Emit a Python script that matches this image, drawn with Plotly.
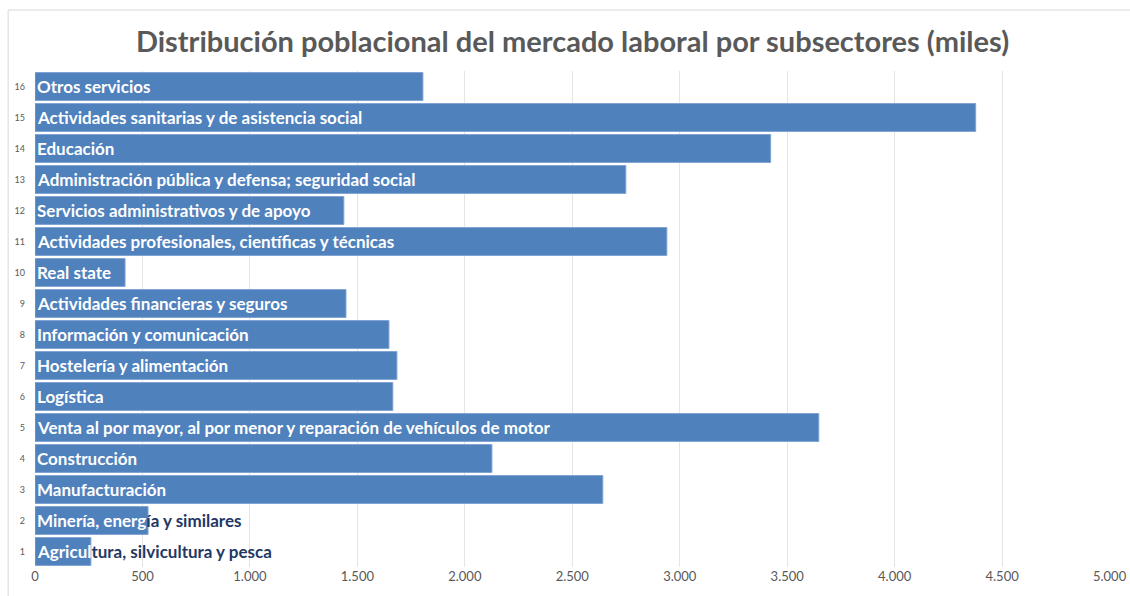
import plotly.graph_objects as go

positions = list(range(1, 17))
subsectors = [
    "Agricultura, silvicultura y pesca",
    "Minería, energía y similares",
    "Manufacturación",
    "Construcción",
    "Venta al por mayor, al por menor y reparación de vehículos de motor",
    "Logística",
    "Hostelería y alimentación",
    "Información y comunicación",
    "Actividades financieras y seguros",
    "Real state",
    "Actividades profesionales, científicas y técnicas",
    "Servicios administrativos y de apoyo",
    "Administración pública y defensa; seguridad social",
    "Educación",
    "Actividades sanitarias y de asistencia social",
    "Otros servicios",
]
values = [260, 526, 2642, 2126, 3647, 1665, 1684, 1647, 1447, 419, 2940, 1437, 2749, 3423, 4377, 1805]
# characters of the label that fall inside a short bar (rest overflows in dark blue)
inside_chars = [7, 14, None, None, None, None, None, None, None, None, None, None, None, None, None, None]

x_ticks = [0, 500, 1000, 1500, 2000, 2500, 3000, 3500, 4000, 4500, 5000]

BAR = "#4F81BD"
NAVY = "#1F3864"

fig = go.Figure()
fig.add_trace(go.Bar(
    y=positions, x=values, orientation="h",
    marker=dict(color=BAR, line=dict(color="#7FA3D3", width=1)),
    hoverinfo="x+y", showlegend=False,
))

annotations = []
for p, name, n in zip(positions, subsectors, inside_chars):
    if n is None:
        txt = f"<b>{name}</b>"
    else:
        txt = (f"<b><span style='color:white'>{name[:n]}</span>"
               f"<span style='color:{NAVY}'>{name[n:]}</span></b>")
    annotations.append(dict(
        x=0, y=p, xref="x", yref="y", text=txt, showarrow=False,
        xanchor="left", yanchor="middle", xshift=0,
        font=dict(family="Lato", size=17, color="white"),
    ))

fig.update_layout(
    width=1130, height=596,
    margin=dict(l=35, r=20, t=71, b=29, autoexpand=False),
    paper_bgcolor="white", plot_bgcolor="white",
    bargap=0.1,
    separators=",.",
    title=dict(
        text="<b>Distribución poblacional del mercado laboral por subsectores (miles)</b>",
        x=0.5, xanchor="center", y=0.93, yanchor="middle", xref="paper",
        font=dict(family="Lato", size=29, color="#595959"),
    ),
    annotations=annotations,
    xaxis=dict(
        range=[0, 5002], tickvals=x_ticks, separatethousands=True,
        showgrid=True, gridcolor="#E4E4E4", gridwidth=1, zeroline=False,
        showline=False, ticks="", automargin=False,
        tickfont=dict(family="Lato", size=13, color="#595959"),
        fixedrange=True,
    ),
    yaxis=dict(
        range=[0.5, 16.5], tickvals=positions, ticktext=[str(p) for p in positions],
        showgrid=False, zeroline=False, showline=False, ticks="", automargin=False,
        ticklabelstandoff=9,
        tickfont=dict(family="Lato", size=9, color="#595959"),
        fixedrange=True,
    ),
    shapes=[
        dict(type="line", xref="paper", yref="paper", x0=-0.025, x1=1.02, y0=1.123, y1=1.123,
             line=dict(color="#D9D9D9", width=1)),
        dict(type="line", xref="paper", yref="paper", x0=-0.025, x1=-0.025, y0=1.123, y1=-0.1,
             line=dict(color="#D9D9D9", width=1)),
    ],
)

fig.write_html("out.html")
